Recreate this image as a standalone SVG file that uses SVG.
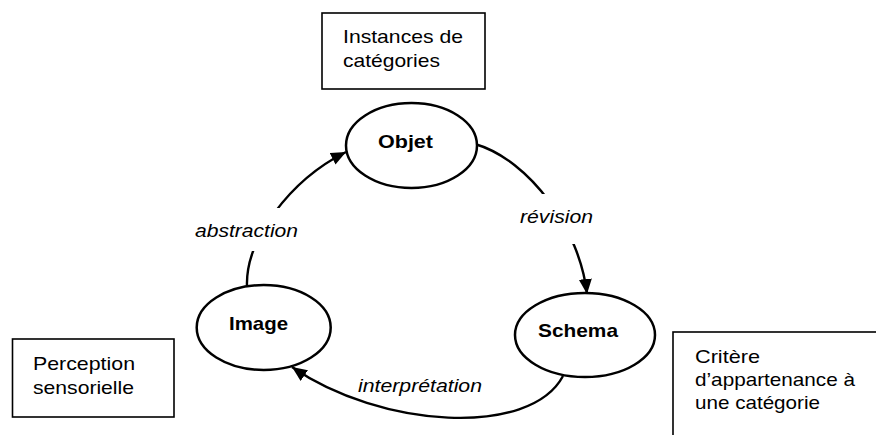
<svg xmlns="http://www.w3.org/2000/svg" width="876" height="435" viewBox="0 0 876 435">
<defs>
<marker id="arrow" markerUnits="userSpaceOnUse" markerWidth="16" markerHeight="13" refX="15" refY="6.5" orient="auto">
<path d="M0,0 L15,6.5 L0,13 z" fill="#000"/>
</marker>
<style>
text{font-family:"Liberation Sans",Arial,sans-serif;font-size:19px;fill:#000}
.b{font-weight:bold}
.i{font-style:italic}
.node{fill:#fff;stroke:#000;stroke-width:2.5}
.box{fill:#fff;stroke:#000;stroke-width:1.6}
.edge{fill:none;stroke:#000;stroke-width:2.4}
.mask{fill:#fff;stroke:none}
</style>
</defs>
<rect width="876" height="435" fill="#fff"/>

<g id="box-instances">
<rect class="box" x="322" y="13" width="163" height="76"/>
<text x="343" y="43" textLength="120" lengthAdjust="spacingAndGlyphs">Instances de</text>
<text x="343" y="67" textLength="97" lengthAdjust="spacingAndGlyphs">catégories</text>
</g>

<g id="box-perception">
<rect class="box" x="12.5" y="339" width="161.5" height="78"/>
<text x="33" y="370" textLength="102" lengthAdjust="spacingAndGlyphs">Perception</text>
<text x="33" y="394" textLength="101" lengthAdjust="spacingAndGlyphs">sensorielle</text>
</g>

<g id="box-critere">
<rect class="box" x="673" y="332" width="220" height="120"/>
<text x="695" y="363" textLength="65" lengthAdjust="spacingAndGlyphs">Critère</text>
<text x="695" y="386" textLength="160" lengthAdjust="spacingAndGlyphs">d’appartenance à</text>
<text x="695" y="409" textLength="125" lengthAdjust="spacingAndGlyphs">une catégorie</text>
</g>

<g id="connectors">
<g id="edge-abstraction">
<path class="edge" d="M247,287 C245,240 290,180 346,152" marker-end="url(#arrow)"/>
<rect class="mask" x="190" y="208" width="115" height="43"/>
<text class="i" x="195" y="237" textLength="103" lengthAdjust="spacingAndGlyphs">abstraction</text>
</g>
<g id="edge-revision">
<path class="edge" d="M475,144 C530,160 580,230 587,294" marker-end="url(#arrow)"/>
<rect class="mask" x="515" y="194" width="85" height="50"/>
<text class="i" x="520" y="223" textLength="73" lengthAdjust="spacingAndGlyphs">révision</text>
</g>
<g id="edge-interpretation">
<path class="edge" d="M563,376 C530,438 380,428 292,367" marker-end="url(#arrow)"/>
<text class="i" x="358" y="392" textLength="124" lengthAdjust="spacingAndGlyphs">interprétation</text>
</g>
</g>

<g id="node-objet">
<ellipse class="node" cx="411.5" cy="145.5" rx="65.5" ry="42.5"/>
<text class="b" x="378" y="148" textLength="55" lengthAdjust="spacingAndGlyphs">Objet</text>
</g>

<g id="node-image">
<ellipse class="node" cx="263.7" cy="327.5" rx="67" ry="42.5"/>
<text class="b" x="229" y="330" textLength="59" lengthAdjust="spacingAndGlyphs">Image</text>
</g>

<g id="node-schema">
<ellipse class="node" cx="585" cy="335" rx="70" ry="42"/>
<text class="b" x="538" y="337" textLength="80" lengthAdjust="spacingAndGlyphs">Schema</text>
</g>
</svg>
